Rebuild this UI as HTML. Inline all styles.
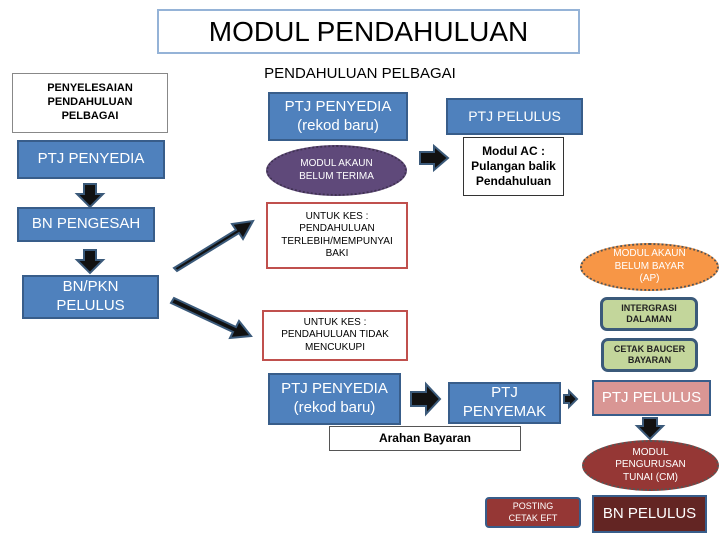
<!DOCTYPE html>
<html><head><meta charset="utf-8"><style>
body{margin:0;width:720px;height:540px;background:#fff;position:relative;overflow:hidden;font-family:"Liberation Sans",sans-serif}
.a{position:absolute;box-sizing:border-box;display:flex;align-items:center;justify-content:center;text-align:center;line-height:1.25}
.blue{background:#4f81bd;border:2px solid #385d8a;color:#fff}
.red{background:#fff;border:2px solid #c0504d;color:#000;font-size:10px}
.wh{background:#fff;border:1px solid #333;color:#000;font-weight:bold}
.grn{background:#c3d69b;border:3px solid #3b5a7a;border-radius:7px;font-size:9px;font-weight:bold;color:#222}
</style></head><body>
<div class="a" style="left:157px;top:9px;width:423px;height:45px;border:2px solid #95b3d7;font-size:28px">MODUL PENDAHULUAN</div>
<div class="a" style="left:250px;top:63px;width:220px;height:22px;font-size:15px">PENDAHULUAN PELBAGAI</div>
<div class="a wh" style="left:12px;top:73px;width:156px;height:60px;border-color:#888;font-size:11px">PENYELESAIAN<br>PENDAHULUAN<br>PELBAGAI</div>
<div class="a blue" style="left:17px;top:140px;width:148px;height:39px;font-size:15px">PTJ PENYEDIA</div>
<div class="a blue" style="left:17px;top:207px;width:138px;height:35px;font-size:15px">BN PENGESAH</div>
<div class="a blue" style="left:22px;top:275px;width:137px;height:44px;font-size:15px">BN/PKN<br>PELULUS</div>
<div class="a blue" style="left:268px;top:92px;width:140px;height:49px;font-size:15px">PTJ PENYEDIA<br>(rekod baru)</div>
<div class="a" style="left:266px;top:145px;width:141px;height:51px;border-radius:50%;background:#5f497a;border:2px dotted #3f3151;color:#fff;font-size:10px">MODUL AKAUN<br>BELUM TERIMA</div>
<div class="a blue" style="left:446px;top:98px;width:137px;height:37px;font-size:14px">PTJ PELULUS</div>
<div class="a wh" style="left:463px;top:137px;width:101px;height:59px;font-size:12px">Modul AC :<br>Pulangan balik<br>Pendahuluan</div>
<div class="a red" style="left:266px;top:202px;width:142px;height:67px">UNTUK KES :<br>PENDAHULUAN<br>TERLEBIH/MEMPUNYAI<br>BAKI</div>
<div class="a red" style="left:262px;top:310px;width:146px;height:51px">UNTUK KES :<br>PENDAHULUAN TIDAK<br>MENCUKUPI</div>
<div class="a" style="left:580px;top:243px;width:139px;height:48px;border-radius:50%;background:#f79646;border:2px dotted #555;color:#fff;font-size:10px">MODUL AKAUN<br>BELUM BAYAR<br>(AP)</div>
<div class="a grn" style="left:600px;top:297px;width:98px;height:34px">INTERGRASI<br>DALAMAN</div>
<div class="a grn" style="left:601px;top:338px;width:97px;height:34px">CETAK BAUCER<br>BAYARAN</div>
<div class="a blue" style="left:268px;top:373px;width:133px;height:52px;font-size:15px">PTJ PENYEDIA<br>(rekod baru)</div>
<div class="a blue" style="left:448px;top:382px;width:113px;height:42px;font-size:15px">PTJ<br>PENYEMAK</div>
<div class="a" style="left:592px;top:380px;width:119px;height:36px;background:#d99694;border:2px solid #385d8a;color:#fff;font-size:15px">PTJ PELULUS</div>
<div class="a wh" style="left:329px;top:426px;width:192px;height:25px;font-size:12px;border-color:#555">Arahan Bayaran</div>
<div class="a" style="left:582px;top:440px;width:137px;height:51px;border-radius:50%;background:#953735;border:2px dotted #555;color:#fff;font-size:10px">MODUL<br>PENGURUSAN<br>TUNAI (CM)</div>
<div class="a" style="left:485px;top:497px;width:96px;height:31px;background:#953735;border:2px solid #385d8a;border-radius:4px;color:#fff;font-size:9px">POSTING<br>CETAK EFT</div>
<div class="a" style="left:592px;top:495px;width:115px;height:38px;background:#632523;border:2px solid #385d8a;color:#fff;font-size:15px">BN PELULUS</div>
<svg width="720" height="540" style="position:absolute;left:0;top:0" >
<g fill="#111" stroke="#3b5a7a" stroke-width="2">
<path d="M84 184h12v10h7l-13 13-13-13h7z"/>
<path d="M84 250h12v10h7l-13 13-13-13h7z"/>
<path d="M643 418h14v8h6l-13 13-13-13h6z"/>
<path d="M420 152h14v-6l14 12-14 12v-6h-14z"/>
<path d="M411 392h15v-8l14 15-14 15v-8h-15z"/>
<path d="M564 395h5v-4l8 8-8 8v-4h-5z"/>
<path d="M174 268l62-38-4-6 21-3-10 18-4-6-62 38z"/>
<path d="M174 298l62 29 3-6 12 15-21 2 3-6-62-29z"/>
</g></svg>
</body></html>
